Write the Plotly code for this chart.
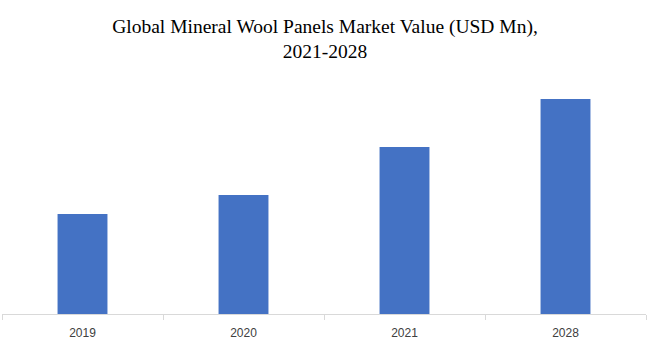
import plotly.graph_objects as go

years = ["2019", "2020", "2021", "2028"]
values = [100, 119, 167, 215]

fig = go.Figure(go.Bar(x=years, y=values, marker=dict(color="#4472C4", line=dict(width=0)), width=0.31))

fig.update_layout(
    width=650, height=347,
    margin=dict(l=2, r=4, t=75, b=33),
    paper_bgcolor="white", plot_bgcolor="white",
    title=dict(text="Global Mineral Wool Panels Market Value (USD Mn),<br>2021-2028",
               x=0.5, xanchor="center", y=0.905, yanchor="top",
               font=dict(family="Liberation Serif", size=19.5, color="#000000")),
    showlegend=False,
)
fig.update_xaxes(showline=True, linecolor="#D9D9D9", linewidth=1,
                 ticks="outside", tickson="boundaries", ticklen=5, tickcolor="#D9D9D9",
                 ticklabelstandoff=8,
                 tickfont=dict(family="Liberation Sans", size=12, color="#404040"),
                 showgrid=False)
fig.update_yaxes(visible=False, range=[0, 239], showgrid=False)

fig.write_html("out.html")
